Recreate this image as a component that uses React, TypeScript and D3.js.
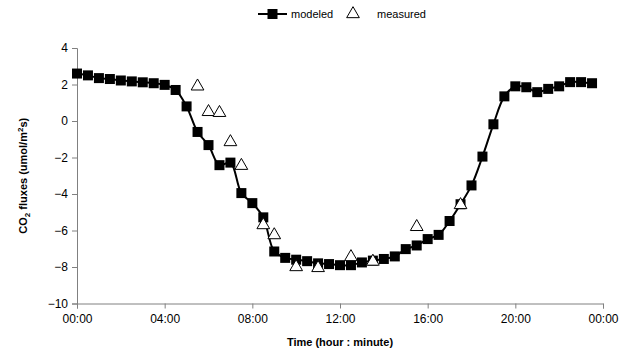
import React, { useEffect, useRef } from 'react';
import * as d3 from 'd3';

// modeled flux, every 30 minutes from 00:00 to 23:30 (hours)
const modeledHours = d3.range(0, 24, 0.5);
const modeledValues = [
  2.6, 2.5, 2.35, 2.3, 2.22, 2.17, 2.12, 2.07,
  1.98, 1.7, 0.8, -0.6, -1.32, -2.42, -2.28, -3.95,
  -4.5, -5.28, -7.15, -7.5, -7.6, -7.68, -7.8, -7.84,
  -7.9, -7.9, -7.75, -7.65, -7.56, -7.42, -7.02, -6.82,
  -6.47, -6.24, -5.48, -4.56, -3.53, -1.95, -0.18, 1.35,
  1.9, 1.85, 1.58, 1.76, 1.9, 2.13, 2.13, 2.07
];

// measured flux
const measuredHours = [5.5, 6, 6.5, 7, 7.5, 8.5, 9, 10, 11, 12.5, 13.5, 15.5, 17.5];
const measuredValues = [1.9, 0.5, 0.45, -1.15, -2.45, -5.7, -6.25, -8.0, -8.05, -7.45, -7.7, -5.8, -4.6];

const xTicks = [0, 4, 8, 12, 16, 20, 24];
const xTickLabels = ['00:00', '04:00', '08:00', '12:00', '16:00', '20:00', '00:00'];
const yTicks = [4, 2, 0, -2, -4, -6, -8, -10];

const App = () => {
  const svgRef = useRef<SVGSVGElement>(null);
  const width = 626;
  const height = 360;

  useEffect(() => {
    if (!svgRef.current) return;
    const svg = d3.select(svgRef.current);
    svg.selectAll('*').remove();

    const font = 'Liberation Sans, Arial, sans-serif';
    const axisColor = '#808080';

    const x = d3.scaleLinear().domain([0, 24]).range([77, 603]);
    const y = d3.scaleLinear().domain([-10, 4]).range([303.5, 48]);

    // y axis
    const yAxis = svg.append('g')
      .attr('transform', `translate(${x(0)},0)`)
      .call(d3.axisLeft(y).tickValues(yTicks).tickSize(5).tickFormat(d3.format('d')));
    yAxis.select('.domain').attr('stroke', axisColor);
    yAxis.selectAll('line').attr('stroke', axisColor);
    yAxis.selectAll('text')
      .attr('fill', '#000')
      .style('font-family', font)
      .style('font-size', '12px')
      .attr('x', -9);

    // x axis
    const xAxis = svg.append('g')
      .attr('transform', `translate(0,${y(-10)})`)
      .call(d3.axisBottom(x).tickValues(xTicks).tickSize(5)
        .tickFormat((d, i) => xTickLabels[i]));
    xAxis.select('.domain').attr('stroke', axisColor);
    xAxis.selectAll('line').attr('stroke', axisColor);
    xAxis.selectAll('text')
      .attr('fill', '#000')
      .style('font-family', font)
      .style('font-size', '12px')
      .attr('y', 11);

    // axis titles
    svg.append('text')
      .attr('x', 340)
      .attr('y', 346)
      .attr('text-anchor', 'middle')
      .style('font-family', font)
      .style('font-size', '11px')
      .style('font-weight', 'bold')
      .text('Time (hour : minute)');

    const yTitle = svg.append('text')
      .attr('transform', `translate(27,${(y(4) + y(-10)) / 2}) rotate(-90)`)
      .attr('text-anchor', 'middle')
      .style('font-family', font)
      .style('font-size', '11px')
      .style('font-weight', 'bold');
    yTitle.append('tspan').text('CO');
    yTitle.append('tspan').attr('dy', 3).style('font-size', '8px').text('2');
    yTitle.append('tspan').attr('dy', -3).text(' fluxes (umol/m');
    yTitle.append('tspan').attr('dy', -4).style('font-size', '8px').text('2');
    yTitle.append('tspan').attr('dy', 4).text('s)');

    // modeled line
    const modeled = modeledHours.map((h, i) => [h, modeledValues[i]] as [number, number]);
    const line = d3.line<[number, number]>()
      .x(d => x(d[0]))
      .y(d => y(d[1]))
      .curve(d3.curveCatmullRom.alpha(0.5));

    svg.append('path')
      .datum(modeled)
      .attr('d', line)
      .attr('fill', 'none')
      .attr('stroke', '#000')
      .attr('stroke-width', 2);

    const sq = 10;
    svg.append('g')
      .selectAll('rect')
      .data(modeled)
      .join('rect')
      .attr('x', d => x(d[0]) - sq / 2)
      .attr('y', d => y(d[1]) - sq / 2)
      .attr('width', sq)
      .attr('height', sq)
      .attr('fill', '#000');

    // measured triangles
    const tri = d3.symbol().type(d3.symbolTriangle).size(70);
    svg.append('g')
      .selectAll('path')
      .data(measuredHours.map((h, i) => [h, measuredValues[i]]))
      .join('path')
      .attr('d', tri)
      .attr('transform', d => `translate(${x(d[0])},${y(d[1])})`)
      .attr('fill', '#fff')
      .attr('stroke', '#000')
      .attr('stroke-width', 1);

    // legend
    const legend = svg.append('g').attr('transform', 'translate(0,14)');
    legend.append('line')
      .attr('x1', 258).attr('x2', 287)
      .attr('y1', 0).attr('y2', 0)
      .attr('stroke', '#000')
      .attr('stroke-width', 2);
    legend.append('rect')
      .attr('x', 272.5 - sq / 2).attr('y', -sq / 2)
      .attr('width', sq).attr('height', sq)
      .attr('fill', '#000');
    legend.append('text')
      .attr('x', 291).attr('y', 4)
      .style('font-family', font)
      .style('font-size', '11px')
      .text('modeled');
    legend.append('path')
      .attr('d', tri)
      .attr('transform', 'translate(353,0)')
      .attr('fill', '#fff')
      .attr('stroke', '#000');
    legend.append('text')
      .attr('x', 377).attr('y', 4)
      .style('font-family', font)
      .style('font-size', '11px')
      .text('measured');
  }, []);

  return (
    <svg
      ref={svgRef}
      width={width}
      height={height}
      style={{ position: 'absolute', left: 0, top: 0, background: '#fff' }}
    />
  );
};

export default App;
